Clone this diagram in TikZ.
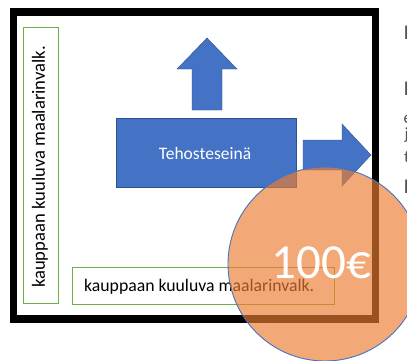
\documentclass[tikz,border=0pt]{standalone}
\usepackage{fontspec}
\setmainfont{Carlito}
\definecolor{offblue}{HTML}{4472C4}
\definecolor{offblueline}{HTML}{2F528F}
\definecolor{offgreen}{HTML}{70AD47}
\definecolor{offorange}{HTML}{ED7D31}
\definecolor{edgetext}{HTML}{505050}
\begin{document}
\begin{tikzpicture}[x=1pt,y=-1pt,
  greenbox/.style={draw=offgreen,line width=0.9pt,fill=white},
  bluefill/.style={fill=offblue,draw=offblueline,line width=0.4pt},
  lbl/.style={inner sep=0pt,font=\fontsize{17.7}{20}\selectfont},
  edgeletter/.style={inner sep=0pt,anchor=base west,text=edgetext,font=\fontsize{21}{24}\selectfont}]
\useasboundingbox (0,0) rectangle (407,360);
\fill[white] (0,0) rectangle (407,360);
% frame
\node[draw=black,line width=7.5pt,minimum width=362pt,minimum height=307pt,inner sep=0pt] (frame) at (194.5,165.5) {};
% vertical label box
\node[greenbox,minimum width=35pt,minimum height=276pt,inner sep=0pt] (vbox) at (40.5,165) {};
\node[lbl,rotate=90,font=\fontsize{18.6}{20}\selectfont] (vtext) at (40,167) {kauppaan kuuluva maalarinvalk.};
% horizontal label box
\node[greenbox,minimum width=262pt,minimum height=37pt,inner sep=0pt] (hbox) at (203,285.5) {};
\node[lbl,anchor=base west] (htext) at (84,291) {kauppaan kuuluva maalarinvalk.};
% up arrow
\fill[bluefill] (192,110) -- (192,69) -- (177,69) -- (207,38) -- (237,69) -- (222,69) -- (222,110) -- cycle;
% main rectangle
\node[bluefill,minimum width=180pt,minimum height=69pt,inner sep=0pt] (wall) at (206,152.5) {};
\node[inner sep=0pt,text=white,font=\fontsize{17.5}{20}\selectfont] (walltext) at (205,153) {Tehosteseinä};
% right arrow
\fill[bluefill] (303,140) -- (342,140) -- (342,124) -- (371,155) -- (342,186) -- (342,170) -- (303,170) -- cycle;
% right-edge cut letters
\node[edgeletter] (e1) at (403.5,39) {I};
\node[edgeletter] (e2) at (403.5,95) {I};
\node[edgeletter,font=\fontsize{17}{20}\selectfont] (e3) at (403.5,123.5) {e};
\node[edgeletter,font=\fontsize{17}{20}\selectfont] (e4) at (404.5,139) {j};
\node[edgeletter,font=\fontsize{17}{20}\selectfont] (e5) at (404,162) {t};
\node[edgeletter] (e6) at (403.5,193) {I};
% price circle
\node[circle,minimum size=194pt,inner sep=0pt,fill=offorange,fill opacity=0.66,draw=offblue,draw opacity=1,line width=0.9pt] (price) at (325,264) {};
\node[inner sep=0pt,anchor=base west,text=white,font=\fontsize{49}{50}\selectfont] (pricetext) at (271.5,278) {100€};
\end{tikzpicture}
\end{document}
